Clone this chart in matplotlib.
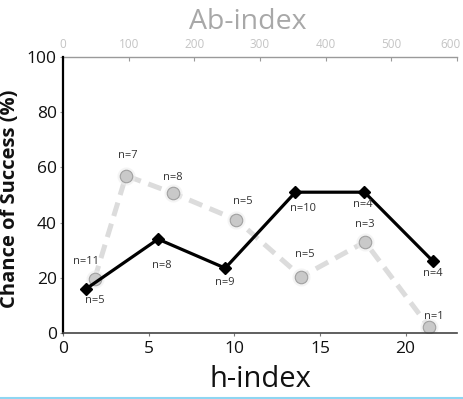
import matplotlib
matplotlib.use("Agg")
import matplotlib.pyplot as plt
from matplotlib.lines import Line2D
from matplotlib.transforms import ScaledTranslation

plt.rcParams['font.family'] = ['Open Sans', 'DejaVu Sans']

# h-index series (black diamonds)
h_x = [1.35, 5.55, 9.47, 13.57, 17.6, 21.6]
h_y = [16, 34, 23.5, 51, 51, 26]
h_n = ["n=5", "n=8", "n=9", "n=10", "n=4", "n=4"]

# Ab-index series (gray circles)
ab_x = [48, 96, 167, 264, 363, 460, 558]
ab_y = [19.5, 57, 50.7, 41, 20.4, 33, 2]
ab_n = ["n=11", "n=7", "n=8", "n=5", "n=5", "n=3", "n=1"]

h_ticks = [0, 5, 10, 15, 20]
ab_ticks = [0, 100, 200, 300, 400, 500, 600]
y_ticks = [0, 20, 40, 60, 80, 100]

# label offsets in pixels (style)
h_off = [(9, -12), (4, -26), (0, -14), (8, -16), (-2, -12), (0, -12)]
ab_off = [(-9, 18), (2, 20), (0, 16), (6, 18), (3, 22), (0, 17), (4, 11)]

fig = plt.figure(figsize=(4.64, 3.99), dpi=100)
ax = fig.add_axes([0.1358, 0.1654, 0.849, 0.692])
ax2 = ax.twiny()

# gray series on top axis
ax2.plot(ab_x, ab_y, color='#dcdcdc', lw=3.6, dashes=(2.8, 1.6), zorder=1)
ax2.plot(ab_x, ab_y, 'o', ms=13, color='#eeeeee', alpha=0.6, mec='none', zorder=2)
ax2.plot(ab_x, ab_y, 'o', ms=9, mfc='#c9c9c9', mec='#a0a0a0', mew=0.8, zorder=3)
for x, y, t, o in zip(ab_x, ab_y, ab_n, ab_off):
    ax2.annotate(t, (x, y), xytext=o, textcoords='offset pixels', ha='center', va='center',
                 fontsize=8, color='#333333', zorder=5)

ax.set_zorder(ax2.get_zorder() + 1)
ax.patch.set_visible(False)
ax.plot(h_x, h_y, color='black', lw=2.3, marker='D', ms=6.5, mfc='black', mec='black', zorder=4)
for x, y, t, o in zip(h_x, h_y, h_n, h_off):
    ax.annotate(t, (x, y), xytext=o, textcoords='offset pixels', ha='center', va='center',
                fontsize=8, color='#333333', zorder=5)

ax.set_xlim(0, 23)
ax.set_ylim(0, 100)
ax2.set_xlim(0, 600)

ax.set_xticks(h_ticks)
ax.set_yticks(y_ticks)
ax2.set_xticks(ab_ticks)

for s in ['top', 'right']:
    ax.spines[s].set_visible(False)
for s in ['left', 'right', 'bottom']:
    ax2.spines[s].set_visible(False)
ax.spines['left'].set_color('black')
ax.spines['left'].set_linewidth(1.6)
ax.spines['bottom'].set_color('#444444')
ax.spines['bottom'].set_linewidth(1.2)
ax2.spines['top'].set_color('#9a9a9a')
ax2.spines['top'].set_linewidth(1.0)

ax.tick_params(axis='x', direction='out', length=2.5, width=0.8, color='#777777',
               labelsize=12.5, labelcolor='#111111', pad=3)
ax.tick_params(axis='y', direction='out', length=2.5, width=0.8, color='#999999',
               labelsize=12.5, labelcolor='#111111', pad=2)
ax2.tick_params(axis='x', direction='in', length=3, width=0.8, color='#9a9a9a',
                labelsize=8.5, labelcolor='#c4c4c4', pad=4)
last = ax2.get_xticklabels()[-1]
last.set_transform(last.get_transform() + ScaledTranslation(-6 / 100, 0, fig.dpi_scale_trans))

ax.set_xlabel('h-index', fontsize=21, color='#111111')
ax.xaxis.set_label_coords(0.5, -0.115)
ax.set_ylabel('Chance of Success (%)', fontsize=14.5, fontweight='bold', color='#111111')
ax.yaxis.set_label_coords(-0.11, 0.486)
ax2.set_xlabel('Ab-index', fontsize=20.5, color='#a8a8a8')
ax2.xaxis.set_label_coords(0.47, 1.1)

fig.add_artist(Line2D([0, 1], [0.003, 0.003], color='#8fd6f2', lw=1.5, transform=fig.transFigure))

fig.savefig('out.png', dpi=100)
